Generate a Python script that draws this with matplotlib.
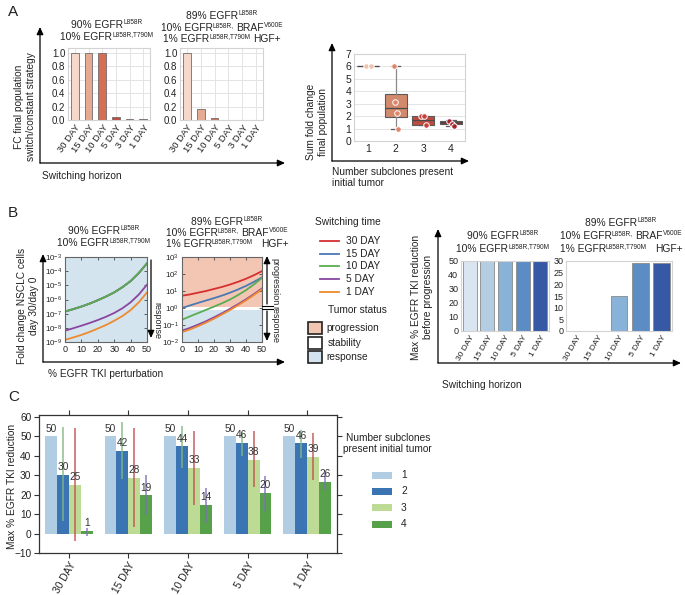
import numpy as np
import matplotlib
matplotlib.use('Agg')
import matplotlib.pyplot as plt
from matplotlib.patches import FancyArrowPatch, Rectangle
from matplotlib.lines import Line2D
from matplotlib.ticker import LogLocator, NullLocator

plt.rcParams['font.family'] = ['Liberation Sans', 'DejaVu Sans']
plt.rcParams['mathtext.fontset'] = 'custom'
plt.rcParams['mathtext.rm'] = 'Liberation Sans'
plt.rcParams['mathtext.it'] = 'Liberation Sans:italic'
plt.rcParams['mathtext.bf'] = 'Liberation Sans:bold'
plt.rcParams['mathtext.default'] = 'regular'

# ---------------- data ----------------
# Panel A (bars)
horizons_A = ['30 DAY', '15 DAY', '10 DAY', '5 DAY', '3 DAY', '1 DAY']
fc_two_clones = [1.0, 1.0, 1.0, 0.04, 0.022, 0.008]
fc_three_clones = [1.0, 0.17, 0.033, 0.006, 0.004, 0.004]
reds_A = ['#f6d9cb', '#e6a992', '#d56e55', '#c24a3c', '#a8312f', '#8a2130']

# Panel A (box)
subclone_counts = ['1', '2', '3', '4']
box_whislo = [6.0, 1.0, 1.25, 1.2]
box_q1 = [6.0, 1.9, 1.27, 1.33]
box_med = [6.0, 2.65, 1.65, 1.5]
box_q3 = [6.0, 3.8, 2.0, 1.62]
box_whishi = [6.0, 6.0, 2.0, 1.65]
box_points = [[6.0, 6.0], [6.0, 3.1, 2.25, 1.0], [2.0, 2.0, 1.3], [1.6, 1.4, 1.2]]
box_colors = ['#f3cab6', '#d38a6c', '#bf4b3f', '#8e2b2d']
point_colors = ['#f0c2b0', '#de8569', '#c9403a', '#a3202c']

# Panel B (curves), log10 fold change vs % perturbation
perturbation = [0, 5, 10, 15, 20, 25, 30, 35, 40, 45, 50]
switch_times = ['30 DAY', '15 DAY', '10 DAY', '5 DAY', '1 DAY']
switch_colors = ['#d62f2f', '#4a7ab5', '#5aac52', '#8a45a0', '#ee8a2e']
b1_30day = [-6.85, -6.68, -6.5, -6.29, -6.05, -5.79, -5.5, -5.13, -4.7, -4.13, -3.45]
b1_15day = [-6.85, -6.68, -6.5, -6.29, -6.05, -5.79, -5.5, -5.13, -4.7, -4.13, -3.45]
b1_10day = [-6.85, -6.68, -6.5, -6.29, -6.05, -5.79, -5.5, -5.13, -4.7, -4.13, -3.45]
b1_5day = [-8.2, -8.03, -7.85, -7.66, -7.45, -7.22, -6.95, -6.62, -6.2, -5.65, -4.95]
b1_1day = [-8.85, -8.68, -8.5, -8.29, -8.05, -7.8, -7.5, -7.17, -6.75, -6.2, -5.5]
b2_30day = [0.72, 0.8, 0.9, 1.0, 1.12, 1.24, 1.38, 1.54, 1.72, 1.93, 2.17]
b2_15day = [0.0, 0.15, 0.3, 0.44, 0.58, 0.73, 0.9, 1.09, 1.3, 1.54, 1.8]
b2_10day = [-0.69, -0.49, -0.3, -0.11, 0.08, 0.28, 0.5, 0.76, 1.05, 1.39, 1.77]
b2_5day = [-1.33, -1.17, -0.98, -0.78, -0.55, -0.31, -0.05, 0.22, 0.51, 0.82, 1.15]
b2_1day = [-1.42, -1.26, -1.07, -0.86, -0.63, -0.38, -0.12, 0.16, 0.45, 0.77, 1.1]
stability_low, stability_high = 0.78, 1.15
status_labels = ['progression', 'stability', 'response']
status_colors = ['#f3c6b4', '#ffffff', '#d4e4ef']

# Panel B (bars)
horizons_B = ['30 DAY', '15 DAY', '10 DAY', '5 DAY', '1 DAY']
maxred_two_clones = [50, 50, 50, 50, 50]
maxred_three_clones = [0, 0, 15, 29.3, 29.3]
blues_B = ['#d9e6f2', '#b3cde3', '#88b2d8', '#5b8dc4', '#3559a5']

# Panel C
horizons_C = ['30 DAY', '15 DAY', '10 DAY', '5 DAY', '1 DAY']
c_sub1 = [50, 50, 50, 50, 50]
c_sub2 = [30.3, 42.7, 44.8, 46.8, 46.4]
c_sub3 = [25.2, 28.7, 33.9, 38.0, 39.5]
c_sub4 = [1.5, 19.8, 14.7, 20.9, 26.7]
c_lo1 = [50, 50, 50, 50, 50]
c_hi1 = [50, 50, 50, 50, 50]
c_lo2 = [6.4, 27.9, 33.8, 39.8, 38.9]
c_hi2 = [54.7, 57.6, 55.2, 52.1, 53.5]
c_lo3 = [-4.0, 3.3, 14.9, 23.8, 27.8]
c_hi3 = [54.1, 54.1, 52.6, 52.6, 51.8]
c_lo4 = [-1.4, 9.3, 5.5, 11.8, 22.6]
c_hi4 = [2.9, 30.2, 23.5, 29.8, 31.2]
c_colors = ['#b0cde3', '#3b74b3', '#bedb96', '#58a14b']
c_err_colors = ['#4c72b0', '#7fb87f', '#c0504f', '#7c70b8']

# genotype title lines: (text, role) with role 'n' normal, 's' superscript, 'g' gap in px
G90 = [('90% EGFR', 'n'), ('L858R', 's')]
G10 = [('10% EGFR', 'n'), ('L858R,T790M', 's')]
G89 = [('89% EGFR', 'n'), ('L858R', 's')]
G10B = [('10% EGFR', 'n'), ('L858R,', 's'), (2.5, 'g'), ('BRAF', 'n'), ('V600E', 's')]
G1 = [('1% EGFR', 'n'), ('L858R,T790M', 's'), (2.5, 'g'), ('HGF+', 'n')]
G1W = [('1% EGFR', 'n'), ('L858R,T790M', 's'), (8, 'g'), ('HGF+', 'n')]

# ---------------- helpers ----------------
W, H = 685.0, 595.0
TXT = '#222222'
fig = plt.figure(figsize=(6.85, 5.95), dpi=100)
renderer = fig.canvas.get_renderer()


def rect(l, t, r, b):
    return [l / W, 1 - b / H, (r - l) / W, (b - t) / H]


def ftext(x, y, s, **kw):
    kw.setdefault('fontsize', 7.5)
    kw.setdefault('color', TXT)
    return fig.text(x / W, 1 - y / H, s, **kw)


def rich_line(xc, yc, segs, fs=7.4, sfs=4.7, raise_px=3.4):
    items = []
    total = 0.0
    for s, role in segs:
        if role == 'g':
            items.append((None, role, s))
            total += s
            continue
        t = fig.text(0, 0, s, fontsize=sfs if role == 's' else fs, color=TXT,
                     ha='left', va='baseline')
        w = t.get_window_extent(renderer).width
        items.append((t, role, w))
        total += w
    x = xc - total / 2.0
    base = yc + 3.7
    for t, role, w in items:
        if t is not None:
            yy = base - (raise_px if role == 's' else 0)
            t.set_position((x / W, 1 - yy / H))
        x += w


def lines_centered(xc, ys, lines):
    for y, segs in zip(ys, lines):
        rich_line(xc, y, segs)


def farrow(x0, y0, x1, y1, lw=0.9):
    fig.add_artist(FancyArrowPatch((x0 / W, 1 - y0 / H), (x1 / W, 1 - y1 / H),
                                   transform=fig.transFigure,
                                   arrowstyle='-|>,head_length=0.55,head_width=0.25',
                                   mutation_scale=8, lw=lw, color='k',
                                   shrinkA=0, shrinkB=0))


def frame_arrows(x0, y0, ytop, xright):
    farrow(x0, y0, x0, ytop)
    farrow(x0, y0, xright, y0)


def light_style(ax, grid_x=True, grid_y=True):
    for s in ax.spines.values():
        s.set_color('#d3d3d3')
        s.set_linewidth(0.8)
    ax.tick_params(length=0, pad=2, colors=TXT)
    if grid_x or grid_y:
        ax.set_axisbelow(True)
    if grid_x:
        ax.xaxis.grid(True, color='#e4e4e4', lw=0.7)
    if grid_y:
        ax.yaxis.grid(True, color='#e4e4e4', lw=0.7)


# ================= Panel A =================
ftext(8, 12, 'A', fontsize=11, va='center')
frame_arrows(40, 163, 27, 285)
ftext(25, 107, 'FC final population\nswitch/constant strategy', rotation=90,
      ha='center', va='center', fontsize=7.3, linespacing=1.15)
ftext(42, 176, 'Switching horizon', ha='left', va='center', fontsize=7.3)

for (l, r), vals, xc, titles, ys in [
        ((68, 150), fc_two_clones, 107, [G90, G10], [24, 36]),
        ((180, 263), fc_three_clones, 222, [G89, G10B, G1], [15, 27, 38])]:
    ax = fig.add_axes(rect(l, 48, r, 120))
    x = np.arange(len(vals))
    ax.bar(x, vals, width=0.55, color=reds_A, edgecolor='#6e6e6e', lw=0.6, zorder=2)
    ax.set_xlim(-0.5, len(vals) - 0.5)
    ax.set_ylim(0, 1.075)
    ax.set_yticks([0, 0.2, 0.4, 0.6, 0.8, 1.0])
    ax.set_yticklabels(['0.0', '0.2', '0.4', '0.6', '0.8', '1.0'], fontsize=7)
    ax.set_xticks(x)
    ax.set_xticklabels(horizons_A, rotation=55, ha='right', rotation_mode='anchor',
                       fontsize=6.8)
    light_style(ax)
    lines_centered(xc, ys, titles)

# Box panel
frame_arrows(332, 161, 43, 469)
ftext(317, 122, 'Sum fold change\nfinal population', rotation=90, ha='center',
      va='center', fontsize=7.3, linespacing=1.15)
ftext(332, 172, 'Number subclones present', ha='left', va='center', fontsize=7.3)
ftext(332, 183, 'initial tumor', ha='left', va='center', fontsize=7.3)

axb = fig.add_axes(rect(354, 54, 465, 141))
stats = [dict(med=m, q1=a, q3=b, whislo=lo, whishi=hi, fliers=[])
         for m, a, b, lo, hi in zip(box_med, box_q1, box_q3, box_whislo, box_whishi)]
bp = axb.bxp(stats, positions=range(len(stats)), widths=0.8, patch_artist=True,
             capwidths=0.35, showfliers=False,
             boxprops=dict(edgecolor='#5a5a5a', lw=0.8),
             medianprops=dict(color='#4a4a4a', lw=0.9),
             whiskerprops=dict(color='#8a8a8a', lw=0.9),
             capprops=dict(color='#5a5a5a', lw=0.9))
for patch, c in zip(bp['boxes'], box_colors):
    patch.set_facecolor(c)
for i, pts in enumerate(box_points):
    offs = np.linspace(-0.07, 0.1, len(pts))
    axb.scatter(i + offs, pts, s=16, color=point_colors[i], edgecolor='white',
                lw=0.7, zorder=4)
axb.set_xlim(-0.5, 3.5)
axb.set_ylim(0, 7)
axb.set_yticks(range(8))
axb.set_xticks(range(4))
axb.set_xticklabels(subclone_counts)
axb.tick_params(labelsize=7.5)
light_style(axb, grid_x=False)

# ================= Panel B =================
ftext(8, 213, 'B', fontsize=11, va='center')
frame_arrows(43, 362, 254, 285)
ftext(28, 306, 'Fold change NSCLC cells\nday 30/day 0', rotation=90, ha='center',
      va='center', fontsize=7.3, linespacing=1.15)
ftext(48, 374, '% EGFR TKI perturbation', ha='left', va='center', fontsize=7.3)

b1_sets = [b1_30day, b1_15day, b1_10day, b1_5day, b1_1day]
b2_sets = [b2_30day, b2_15day, b2_10day, b2_5day, b2_1day]

for (l, r), sets, ylim, xc, titles, ys in [
        ((65, 147), b1_sets, (1e-9, 1e-3), 104, [G90, G10], [230, 242]),
        ((182, 262), b2_sets, (1e-2, 1e3), 227, [G89, G10B, G1W], [221, 232, 243])]:
    ax = fig.add_axes(rect(l, 257, r, 342))
    ax.set_yscale('log')
    ax.axhspan(stability_high, 1e6, color=status_colors[0], lw=0, zorder=0)
    ax.axhspan(stability_low, stability_high, color=status_colors[1], lw=0, zorder=0)
    ax.axhspan(1e-12, stability_low, color=status_colors[2], lw=0, zorder=0)
    for vals, c in zip(sets, switch_colors):
        ax.plot(perturbation, 10.0 ** np.array(vals), color=c, lw=1.3, zorder=2)
    ax.set_xlim(0, 50)
    ax.set_ylim(*ylim)
    ax.set_xticks([0, 10, 20, 30, 40, 50])
    ax.yaxis.set_major_locator(LogLocator(base=10, numticks=20))
    ax.yaxis.set_minor_locator(NullLocator())
    ax.tick_params(direction='in', length=2.5, width=0.6, top=True, right=True,
                   colors='#444444', labelcolor=TXT, pad=2)
    ax.tick_params(axis='y', labelsize=5.8)
    ax.tick_params(axis='x', labelsize=6.5)
    for s in ax.spines.values():
        s.set_color('#666666')
        s.set_linewidth(0.8)
    lines_centered(xc, ys, titles)

# response / progression arrows
farrow(151, 260, 151, 338)
ftext(157, 321, 'response', rotation=270, ha='center', va='center', fontsize=6.5)
farrow(267, 304, 267, 256)
farrow(267, 311, 267, 341)
fig.add_artist(Line2D([262 / W, 273 / W], [1 - 305.5 / H, 1 - 305.5 / H], color='k', lw=0.8))
fig.add_artist(Line2D([262 / W, 273 / W], [1 - 309 / H, 1 - 309 / H], color='k', lw=0.8))
ftext(275, 282, 'progression', rotation=270, ha='center', va='center', fontsize=6.5)
ftext(275, 325, 'response', rotation=270, ha='center', va='center', fontsize=6.5)

# legend B
ftext(315, 222, 'Switching time', ha='left', va='center', fontsize=7.3)
for k, (lab, c) in enumerate(zip(switch_times, switch_colors)):
    yy = 241 + k * 12.7
    fig.add_artist(Line2D([320 / W, 339 / W], [1 - yy / H, 1 - yy / H], color=c, lw=1.3))
    ftext(346, yy, lab, ha='left', va='center', fontsize=7.3)
ftext(328, 310, 'Tumor status', ha='left', va='center', fontsize=7.3)
for k, (lab, c) in enumerate(zip(status_labels, status_colors)):
    yy = 328 + k * 14.5
    fig.add_artist(Rectangle((308 / W, 1 - (yy + 6) / H), 14 / W, 12 / H,
                             transform=fig.transFigure, facecolor=c,
                             edgecolor='#222222', lw=1.2))
    ftext(326 + (2 if lab == 'stability' else 0), yy, lab, ha='left', va='center',
          fontsize=7.3)

# B bar panels
frame_arrows(438, 363, 229, 681)
ftext(422, 297, 'Max % EGFR TKI reduction\nbefore progression', rotation=90,
      ha='center', va='center', fontsize=7.3, linespacing=1.15)
ftext(442, 385, 'Switching horizon', ha='left', va='center', fontsize=7.3)

for (l, r), vals, ylim, ticks, xc, titles, ys in [
        ((461, 549), maxred_two_clones, (0, 50), range(0, 51, 10), 503, [G90, G10], [235, 248]),
        ((566, 672), maxred_three_clones, (0, 30), range(0, 31, 5), 621, [G89, G10B, G1W],
         [222, 235, 248])]:
    ax = fig.add_axes(rect(l, 261, r, 331))
    x = np.arange(len(vals))
    ax.bar(x, vals, width=0.8, color=blues_B, edgecolor='#8a8a8a', lw=0.6, zorder=2)
    ax.set_xlim(-0.5, len(vals) - 0.5)
    ax.set_ylim(*ylim)
    ax.set_yticks(list(ticks))
    ax.set_xticks(x)
    ax.set_xticklabels(horizons_B, rotation=60, ha='right', rotation_mode='anchor',
                       fontsize=6)
    ax.tick_params(axis='y', labelsize=6.5)
    light_style(ax, grid_x=False, grid_y=False)
    lines_centered(xc, ys, titles)

# ================= Panel C =================
ftext(8, 397, 'C', fontsize=11, va='center')
axc = fig.add_axes(rect(39, 415, 337, 553))
c_vals = [c_sub1, c_sub2, c_sub3, c_sub4]
c_los = [c_lo1, c_lo2, c_lo3, c_lo4]
c_his = [c_hi1, c_hi2, c_hi3, c_hi4]
xg = np.arange(len(horizons_C))
bw = 0.2
for j in range(4):
    xs = xg + (j - 1.5) * bw
    axc.bar(xs, c_vals[j], width=bw, color=c_colors[j], lw=0, zorder=2)
for j in range(4):
    xs = xg + (j - 1.5) * bw
    axc.vlines(xs, c_los[j], c_his[j], color=c_err_colors[j], lw=1.1, alpha=0.9, zorder=3)
    for xx, v in zip(xs, c_vals[j]):
        axc.text(xx, v + 1.3, str(int(v)), ha='center', va='bottom', fontsize=7.3,
                 color='#333333', zorder=4)
axc.set_xlim(-0.5, 4.5)
axc.set_ylim(-10, 61)
axc.set_yticks(range(-10, 61, 10))
axc.set_xticks(xg)
axc.set_xticklabels(horizons_C, rotation=60, ha='right', rotation_mode='anchor',
                    fontsize=7.3)
axc.tick_params(direction='out', length=3.5, width=0.8, top=True, right=True,
                colors='#333333', labelcolor=TXT, labelsize=7.3, pad=2)
for s in axc.spines.values():
    s.set_color('#333333')
    s.set_linewidth(0.9)
ftext(12, 486, 'Max % EGFR TKI reduction', rotation=90, ha='center', va='center',
      fontsize=7.3)

# legend C
ftext(388, 438, 'Number subclones', ha='center', va='center', fontsize=7.3)
ftext(387, 449, 'present initial tumor', ha='center', va='center', fontsize=7.3)
for k, (lab, c) in enumerate(zip(subclone_counts, c_colors)):
    yy = 475 + k * 16.4
    fig.add_artist(Rectangle((372 / W, 1 - (yy + 3.5) / H), 20 / W, 7 / H,
                             transform=fig.transFigure, facecolor=c, lw=0))
    ftext(401, yy, lab, ha='left', va='center', fontsize=7.3)

fig.savefig('out.png', dpi=100)
